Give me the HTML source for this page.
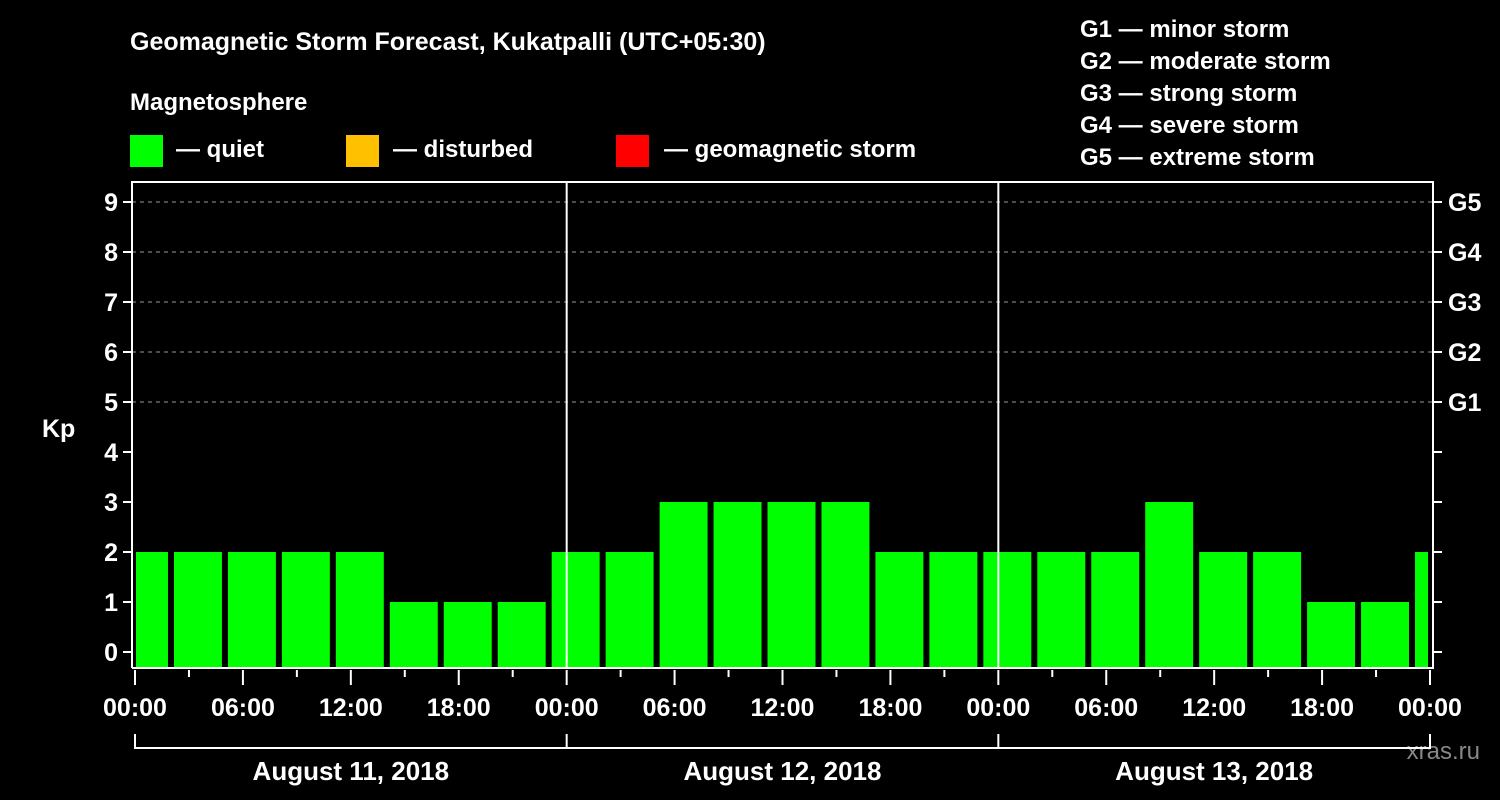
<!DOCTYPE html>
<html><head><meta charset="utf-8"><style>
body{margin:0;background:#000;}
svg{display:block;font-family:"Liberation Sans",Arial,sans-serif;font-weight:bold;}
</style></head><body>
<svg id="chart" width="1500" height="800" viewBox="0 0 1500 800">
<rect width="1500" height="800" fill="#000"/>
<text x="130" y="50" fill="#fff" font-size="25">Geomagnetic Storm Forecast, Kukatpalli (UTC+05:30)</text>
<text x="130" y="110" fill="#fff" font-size="24">Magnetosphere</text>
<g><rect x="130" y="135" width="33" height="32" fill="#00ff00"/><text x="176" y="157" fill="#fff" font-size="24">— quiet</text></g>
<g><rect x="346" y="135" width="33" height="32" fill="#ffc000"/><text x="393" y="157" fill="#fff" font-size="24">— disturbed</text></g>
<g><rect x="616" y="135" width="33" height="32" fill="#ff0000"/><text x="664" y="157" fill="#fff" font-size="24">— geomagnetic storm</text></g>
<g fill="#fff" font-size="24">
<text x="1080" y="37">G1 — minor storm</text>
<text x="1080" y="69">G2 — moderate storm</text>
<text x="1080" y="101">G3 — strong storm</text>
<text x="1080" y="133">G4 — severe storm</text>
<text x="1080" y="165">G5 — extreme storm</text>
</g>
<text x="42" y="437" fill="#fff" font-size="25">Kp</text>
<text x="1480" y="759" fill="#888" font-size="24" text-anchor="end" font-weight="normal">xras.ru</text>
<g id="plot"></g>
</svg>
<script>
const kpValues=[2,2,2,2,2,1,1,1,2,2,3,3,3,3,2,2,2,2,2,3,2,2,1,1,2];
const kpTicks=[0,1,2,3,4,5,6,7,8,9];
const gLabels=["G1","G2","G3","G4","G5"];
const timeLabels=["00:00","06:00","12:00","18:00","00:00","06:00","12:00","18:00","00:00","06:00","12:00","18:00","00:00"];
const dayLabels=["August 11, 2018","August 12, 2018","August 13, 2018"];
const slotStartHour=-1, slotHours=3, totalHours=72;

const NS="http://www.w3.org/2000/svg";
const plot=document.getElementById('plot');
const X0=135,X1=1430,L=132,R=1433,T=182,B=668;
const xs=h=>X0+(X1-X0)*h/totalHours;
const ys=k=>652-50*k;
function mk(tag,a,parent){const e=document.createElementNS(NS,tag);for(const k in a)e.setAttribute(k,a[k]);(parent||plot).appendChild(e);return e;}
function col(v){return v>=5?'#ff0000':(v>=4?'#ffc000':'#00ff00');}
// bars
kpValues.forEach((v,i)=>{
  const h0=slotStartHour+i*slotHours,h1=h0+slotHours;
  let x0=xs(h0)+3,x1=xs(h1)-3;
  x0=Math.max(x0,X0+1);x1=Math.min(x1,X1-2);
  const r=mk('rect',{x:x0,y:ys(v),width:x1-x0,height:B-ys(v),fill:col(v)});
  
  
});
// grid
[5,6,7,8,9].forEach(k=>{
  const l=mk('line',{x1:L,x2:R,y1:ys(k),y2:ys(k),stroke:'#999','stroke-dasharray':'4,4','stroke-width':1});
  
  
});
// frame
const f=mk('path',{d:`M${L} ${B}V${T}H${R}V${B}H${L}`,fill:'none',stroke:'#fff','stroke-width':2});


[1,2].forEach(d=>{
  const l=mk('line',{x1:xs(d*24),x2:xs(d*24),y1:T,y2:B,stroke:'#fff','stroke-width':2});
  
  
});
// y ticks
kpTicks.forEach(k=>{
  mk('line',{x1:L-9,x2:L,y1:ys(k),y2:ys(k),stroke:'#fff','stroke-width':2});
  mk('line',{x1:R,x2:R+9,y1:ys(k),y2:ys(k),stroke:'#fff','stroke-width':2});
  const t=mk('text',{x:L-14,y:ys(k)+9,fill:'#fff','font-size':25,'text-anchor':'end'});
  t.textContent=k;
  
  
});
gLabels.forEach((g,i)=>{
  const t=mk('text',{x:1448,y:ys(5+i)+9,fill:'#fff','font-size':25});
  t.textContent=g;
  
  
});
// x ticks
for(let h=0;h<=totalHours;h+=3){
  const major=h%6===0;
  mk('line',{x1:xs(h),x2:xs(h),y1:B+2,y2:B+(major?17:9),stroke:'#fff','stroke-width':2});
}
timeLabels.forEach((s,i)=>{
  const t=mk('text',{x:xs(i*6),y:716,fill:'#fff','font-size':25,'text-anchor':'middle'});
  t.textContent=s;
  
  
});
// date bracket
mk('line',{x1:X0,x2:X1,y1:748,y2:748,stroke:'#fff','stroke-width':2});
for(let d=0;d<=3;d++) mk('line',{x1:xs(d*24),x2:xs(d*24),y1:734,y2:749,stroke:'#fff','stroke-width':2});
dayLabels.forEach((s,i)=>{
  const t=mk('text',{x:xs(i*24+12),y:780,fill:'#fff','font-size':26,'text-anchor':'middle'});
  t.textContent=s;
  
  
});
</script>
</body></html>
